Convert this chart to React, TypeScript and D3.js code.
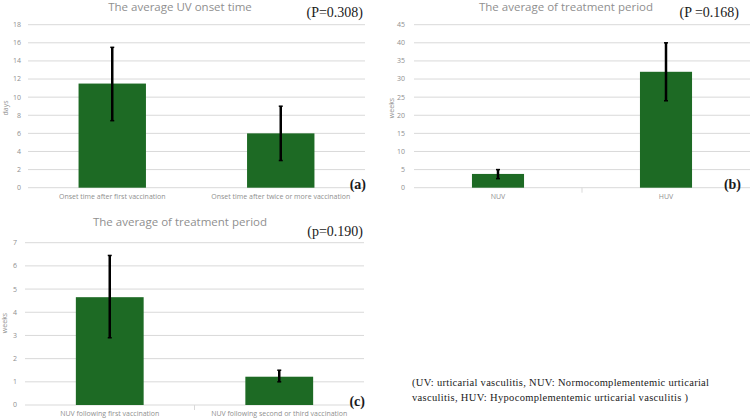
import React from 'react';
import * as d3 from 'd3';

const catsA = ['Onset time after first vaccination', 'Onset time after twice or more vaccination'];
const valsA = [11.5, 6.0];
const errLoA = [7.4, 3.0];
const errHiA = [15.5, 9.0];
const ticksA = [0, 2, 4, 6, 8, 10, 12, 14, 16, 18];

const catsB = ['NUV', 'HUV'];
const valsB = [3.8, 32];
const errLoB = [2.5, 24];
const errHiB = [5.0, 40];
const ticksB = [0, 5, 10, 15, 20, 25, 30, 35, 40, 45];

const catsC = ['NUV following first vaccination', 'NUV following second or third vaccination'];
const valsC = [4.65, 1.22];
const errLoC = [2.9, 1.0];
const errHiC = [6.45, 1.5];
const ticksC = [0, 1, 2, 3, 4, 5, 6, 7];

const GREEN = '#1d6a24';
const GRID = '#d9d9d9';
const LABEL = '#8f8f8f';
const SANS = 'Open Sans, Liberation Sans, sans-serif';
const SERIF = 'Liberation Serif, Times New Roman, serif';

type PanelProps = {
  cats: string[]; vals: number[]; lo: number[]; hi: number[]; ticks: number[];
  x0: number; x1: number; yBase: number; yTop: number; maxV: number;
  pIn: number; pOut: number; title: string; titleX: number; titleY: number;
  pText: string; pX: number; pY: number; tag: string; tagY: number; tagX: number;
  yLabel: string; yLabelX: number; yLabelY: number; tickRight: number; catY: number;
  sep: boolean;
};

function Panel(p: PanelProps) {
  const x = d3.scaleBand<string>().domain(p.cats).range([p.x0, p.x1]).paddingInner(p.pIn).paddingOuter(p.pOut);
  const y = d3.scaleLinear().domain([0, p.maxV]).range([p.yBase, p.yTop]);
  const bw = x.bandwidth();
  const mid = (p.x0 + p.x1) / 2;
  return (
    <g>
      {p.ticks.map(t => (
        <g key={t}>
          <line x1={p.x0} x2={p.x1} y1={y(t)} y2={y(t)} stroke={GRID} strokeWidth={1} />
          <text x={p.tickRight} y={y(t)} dy="0.35em" textAnchor="end" fontSize={7} fill={LABEL} fontFamily={SANS}>{t}</text>
        </g>
      ))}
      {p.sep && <line x1={mid} x2={mid} y1={p.yBase} y2={p.yBase + 5} stroke={GRID} strokeWidth={1} />}
      {p.cats.map((c, i) => {
        const bx = x(c) as number;
        const cx = bx + bw / 2;
        return (
          <g key={c}>
            <rect x={bx} y={y(p.vals[i])} width={bw} height={p.yBase - y(p.vals[i])} fill={GREEN} />
            <line x1={cx} x2={cx} y1={y(p.hi[i])} y2={y(p.lo[i])} stroke="#000" strokeWidth={2.5} />
            <line x1={cx - 2} x2={cx + 2} y1={y(p.hi[i])} y2={y(p.hi[i])} stroke="#000" strokeWidth={1.5} />
            <line x1={cx - 2} x2={cx + 2} y1={y(p.lo[i])} y2={y(p.lo[i])} stroke="#000" strokeWidth={1.5} />
            <text x={cx} y={p.catY} textAnchor="middle" fontSize={7} fill={LABEL} fontFamily={SANS}>{c}</text>
          </g>
        );
      })}
      <text x={p.titleX} y={p.titleY} textAnchor="middle" fontSize={11.5} fill={LABEL} fontFamily={SANS}>{p.title}</text>
      <text x={p.pX} y={p.pY} textAnchor="end" fontSize={14} fill="#1a1a1a" fontFamily={SERIF}>{p.pText}</text>
      <text x={p.tagX} y={p.tagY} textAnchor="end" fontSize={14} fontWeight="bold" fill="#1a1a1a" fontFamily={SERIF}>{p.tag}</text>
      <text transform={`translate(${p.yLabelX},${p.yLabelY}) rotate(-90)`} textAnchor="middle" fontSize={7} fill={LABEL} fontFamily={SANS}>{p.yLabel}</text>
    </g>
  );
}

export default function App() {
  return (
    <svg width={752} height={420} style={{ position: 'absolute', left: 0, top: 0, background: '#fff' }}>
      <rect width={752} height={420} fill="#fff" />
      <Panel cats={catsA} vals={valsA} lo={errLoA} hi={errHiA} ticks={ticksA}
        x0={28} x1={365} yBase={187.7} yTop={24.7} maxV={18} pIn={0.6} pOut={0.3}
        title="The average UV onset time" titleX={180} titleY={11}
        pText="(P=0.308)" pX={363} pY={17} tag="(a)" tagX={366} tagY={189}
        yLabel="days" yLabelX={8} yLabelY={108} tickRight={21} catY={199} sep={false} />
      <Panel cats={catsB} vals={valsB} lo={errLoB} hi={errHiB} ticks={ticksB}
        x0={414} x1={750} yBase={187.7} yTop={24.7} maxV={45} pIn={0.69} pOut={0.345}
        title="The average of treatment period" titleX={566} titleY={11}
        pText="(P =0.168)" pX={739} pY={17} tag="(b)" tagX={741} tagY={189}
        yLabel="weeks" yLabelX={394} yLabelY={108} tickRight={405} catY={199} sep={true} />
      <Panel cats={catsC} vals={valsC} lo={errLoC} hi={errHiC} ticks={ticksC}
        x0={25} x1={364} yBase={405} yTop={242.7} maxV={7} pIn={0.6} pOut={0.3}
        title="The average of treatment period" titleX={180} titleY={226}
        pText="(p=0.190)" pX={363} pY={236} tag="(c)" tagX={365} tagY={406}
        yLabel="weeks" yLabelX={7} yLabelY={323} tickRight={17} catY={416} sep={true} />
      <text x={412} y={386} fontSize={10.5} fill="#1a1a1a" fontFamily={SERIF} textLength={297} lengthAdjust="spacing">(UV: urticarial  vasculitis, NUV: Normocomplementemic urticarial</text>
      <text x={412} y={401} fontSize={10.5} fill="#1a1a1a" fontFamily={SERIF} textLength={276} lengthAdjust="spacing">vasculitis, HUV: Hypocomplementemic urticarial  vasculitis )</text>
    </svg>
  );
}
